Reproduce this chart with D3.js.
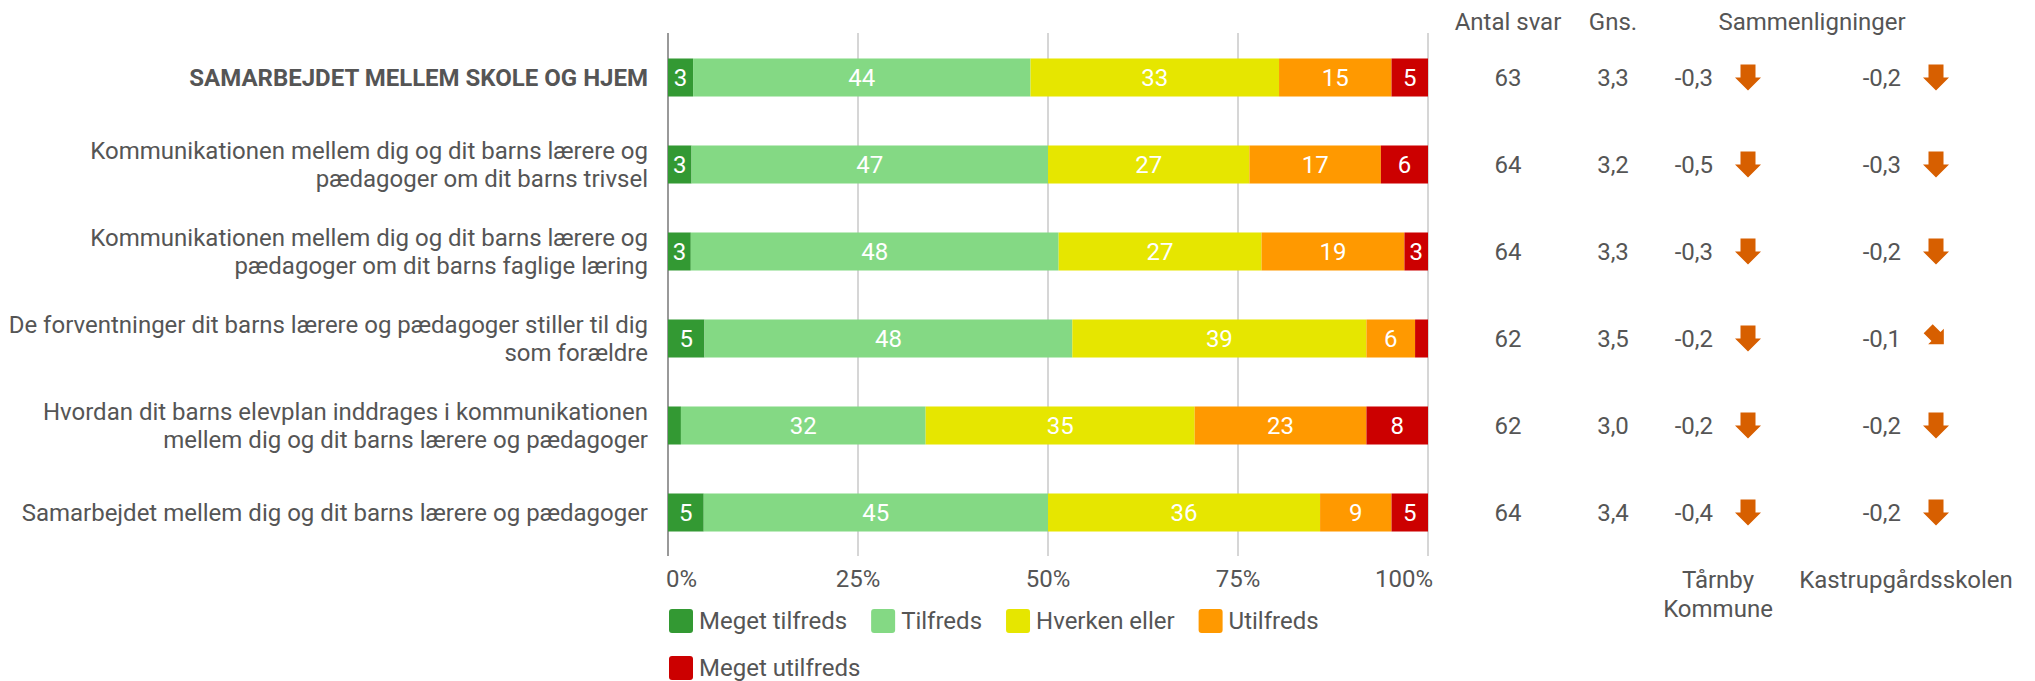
<!DOCTYPE html>
<html><head><meta charset="utf-8">
<script src="https://cdn.jsdelivr.net/npm/d3@7"></script>
<style>body{margin:0;background:#fff}svg{display:block;font-family:Roboto,"Noto Sans",sans-serif}</style>
</head><body><svg id="c" width="2035" height="681"></svg>
<script>
const categories = [
  "SAMARBEJDET MELLEM SKOLE OG HJEM",
  "Kommunikationen mellem dig og dit barns lærere og\npædagoger om dit barns trivsel",
  "Kommunikationen mellem dig og dit barns lærere og\npædagoger om dit barns faglige læring",
  "De forventninger dit barns lærere og pædagoger stiller til dig\nsom forældre",
  "Hvordan dit barns elevplan inddrages i kommunikationen\nmellem dig og dit barns lærere og pædagoger",
  "Samarbejdet mellem dig og dit barns lærere og pædagoger"
];
const seriesNames = ["Meget tilfreds","Tilfreds","Hverken eller","Utilfreds","Meget utilfreds"];
const seriesColors = ["#339933","#84d984","#e6e600","#ff9900","#cc0000"];
const megetTilfreds  = [3.3, 3.1, 3.0, 4.8, 1.7, 4.7];
const tilfreds       = [44.4, 46.9, 48.4, 48.4, 32.2, 45.3];
const hverkenEller   = [32.7, 26.5, 26.7, 38.7, 35.4, 35.8];
const utilfreds      = [14.8, 17.3, 18.8, 6.4, 22.6, 9.4];
const megetUtilfreds = [4.8, 6.2, 3.1, 1.7, 8.1, 4.8];
const antalSvar = [63, 64, 64, 62, 62, 64];
const gns = [3.3, 3.2, 3.3, 3.5, 3.0, 3.4];
const compTarnby = [-0.3, -0.5, -0.3, -0.2, -0.2, -0.4];
const compSkole  = [-0.2, -0.3, -0.2, -0.1, -0.2, -0.2];
const trendTarnby = ["down","down","down","down","down","down"];
const trendSkole  = ["down","down","down","diag","down","down"];
const xTicks = [0, 25, 50, 75, 100];
const headers = ["Antal svar", "Gns.", "Sammenligninger"];
const compLabels = ["Tårnby\nKommune", "Kastrupgårdsskolen"];

const seriesValues = [megetTilfreds, tilfreds, hverkenEller, utilfreds, megetUtilfreds];
const rows = categories.map((c, i) => {
  const r = {cat: c, i};
  seriesNames.forEach((s, k) => r[s] = seriesValues[k][i]);
  return r;
});

const loc = d3.formatLocale({decimal: ",", thousands: ".", grouping: [3], currency: ["", " kr"], minus: "-"});
const f1 = loc.format(".1f");

const svg = d3.select("#c");
const textColor = "#555";
const FS = 24;

const x = d3.scaleLinear().domain([0, 100]).range([668, 1428]);
const y = d3.scaleBand().domain(d3.range(categories.length)).range([34, 556]).paddingInner(0.563).paddingOuter(0.2815);

// gridlines
const gTop = 33, gBot = 556;
svg.append("g").selectAll("line").data(xTicks).join("line")
  .attr("x1", d => x(d)).attr("x2", d => x(d)).attr("y1", gTop).attr("y2", gBot)
  .attr("stroke", d => d === 0 ? "#999" : "#bbb").attr("stroke-width", d => d === 0 ? 2 : 1.2);

// tick labels
svg.append("g").selectAll("text").data(xTicks).join("text")
  .attr("x", (d, i) => i === 0 ? x(d) - 2 : i === xTicks.length - 1 ? x(d) + 5 : x(d))
  .attr("y", 579).attr("dy", "0.35em")
  .attr("text-anchor", (d, i) => i === 0 ? "start" : i === xTicks.length - 1 ? "end" : "middle")
  .attr("font-size", FS).attr("fill", textColor).text(d => d + "%");

// stacked bars
const stack = d3.stack().keys(seriesNames)(rows);
const layers = svg.append("g").selectAll("g").data(stack).join("g").attr("fill", (d, k) => seriesColors[k]);
layers.selectAll("rect").data(d => d).join("rect")
  .attr("x", d => x(d[0])).attr("width", d => x(d[1]) - x(d[0]))
  .attr("y", (d, i) => y(i)).attr("height", y.bandwidth());
layers.selectAll("text").data(d => d.filter(p => p[1] - p[0] >= 2.5)).join("text")
  .attr("x", d => (x(d[0]) + x(d[1])) / 2)
  .attr("y", d => y(d.data.i) + y.bandwidth() / 2).attr("dy", "0.35em")
  .attr("text-anchor", "middle").attr("font-size", FS).attr("fill", "#fff")
  .text(d => Math.round(d[1] - d[0]));

// category labels
const lh = 28;
svg.append("g").selectAll("text").data(categories).join("text")
  .attr("text-anchor", "end").attr("font-size", FS).attr("fill", textColor)
  .attr("font-weight", (d, i) => i === 0 ? "bold" : "normal")
  .each(function(d, i) {
    const lines = d.split("\n");
    const cy = y(i) + y.bandwidth() / 2;
    const t = d3.select(this);
    lines.forEach((ln, j) => {
      t.append("tspan").attr("x", 648)
        .attr("y", cy + (j - (lines.length - 1) / 2) * lh).attr("dy", "0.35em").text(ln);
    });
  });

// right columns
const colN = 1508, colG = 1613, colC1 = 1718, colC2 = 1906;
const hdr = svg.append("g").attr("font-size", FS).attr("fill", textColor).attr("text-anchor", "middle");
hdr.append("text").attr("x", colN).attr("y", 22).attr("dy", "0.35em").text(headers[0]);
hdr.append("text").attr("x", colG).attr("y", 22).attr("dy", "0.35em").text(headers[1]);
hdr.append("text").attr("x", (colC1 + colC2) / 2).attr("y", 22).attr("dy", "0.35em").text(headers[2]);

const cols = svg.append("g").attr("font-size", FS).attr("fill", textColor);
cols.selectAll("text.n").data(antalSvar).join("text").attr("class", "n")
  .attr("x", colN).attr("y", (d, i) => y(i) + y.bandwidth() / 2).attr("dy", "0.35em")
  .attr("text-anchor", "middle").text(d => d);
cols.selectAll("text.g").data(gns).join("text").attr("class", "g")
  .attr("x", colG).attr("y", (d, i) => y(i) + y.bandwidth() / 2).attr("dy", "0.35em")
  .attr("text-anchor", "middle").text(d => f1(d));

const arrowPath = "M-7.5,-13H7.5V0H13L0,13L-13,0H-7.5Z";
function compCol(vals, trends, cx, cls) {
  cols.selectAll("text." + cls).data(vals).join("text").attr("class", cls)
    .attr("x", cx - 5).attr("y", (d, i) => y(i) + y.bandwidth() / 2).attr("dy", "0.35em")
    .attr("text-anchor", "end").text(d => f1(d));
  svg.append("g").selectAll("path").data(trends).join("path")
    .attr("d", arrowPath).attr("fill", "#d75f00")
    .attr("transform", (d, i) => `translate(${cx + 30},${y(i) + y.bandwidth() / 2 - (d === "diag" ? 2 : 0)})` + (d === "diag" ? " rotate(-45) scale(0.85)" : ""));
}
compCol(compTarnby, trendTarnby, colC1, "c1");
compCol(compSkole, trendSkole, colC2, "c2");

// bottom comparison labels
[colC1, colC2].forEach((cx, k) => {
  const t = svg.append("text").attr("text-anchor", "middle").attr("font-size", FS).attr("fill", textColor);
  compLabels[k].split("\n").forEach((ln, j) => {
    t.append("tspan").attr("x", cx).attr("y", 580 + j * 29).attr("dy", "0.35em").text(ln);
  });
});

// legend
const leg = svg.append("g");
let lx = 669, ly = 621;
seriesNames.forEach((s, k) => {
  const g = leg.append("g");
  const txt = g.append("text").attr("font-size", FS).attr("fill", textColor).attr("dy", "0.35em").text(s);
  const w = txt.node().getComputedTextLength();
  if (lx + 30 + w > 1428) { lx = 669; ly += 47; }
  g.insert("rect", "text").attr("x", lx).attr("y", ly - 12).attr("width", 24).attr("height", 24)
    .attr("rx", 3).attr("fill", seriesColors[k]);
  txt.attr("x", lx + 30).attr("y", ly);
  lx += 30 + w + 24;
});
</script></body></html>
